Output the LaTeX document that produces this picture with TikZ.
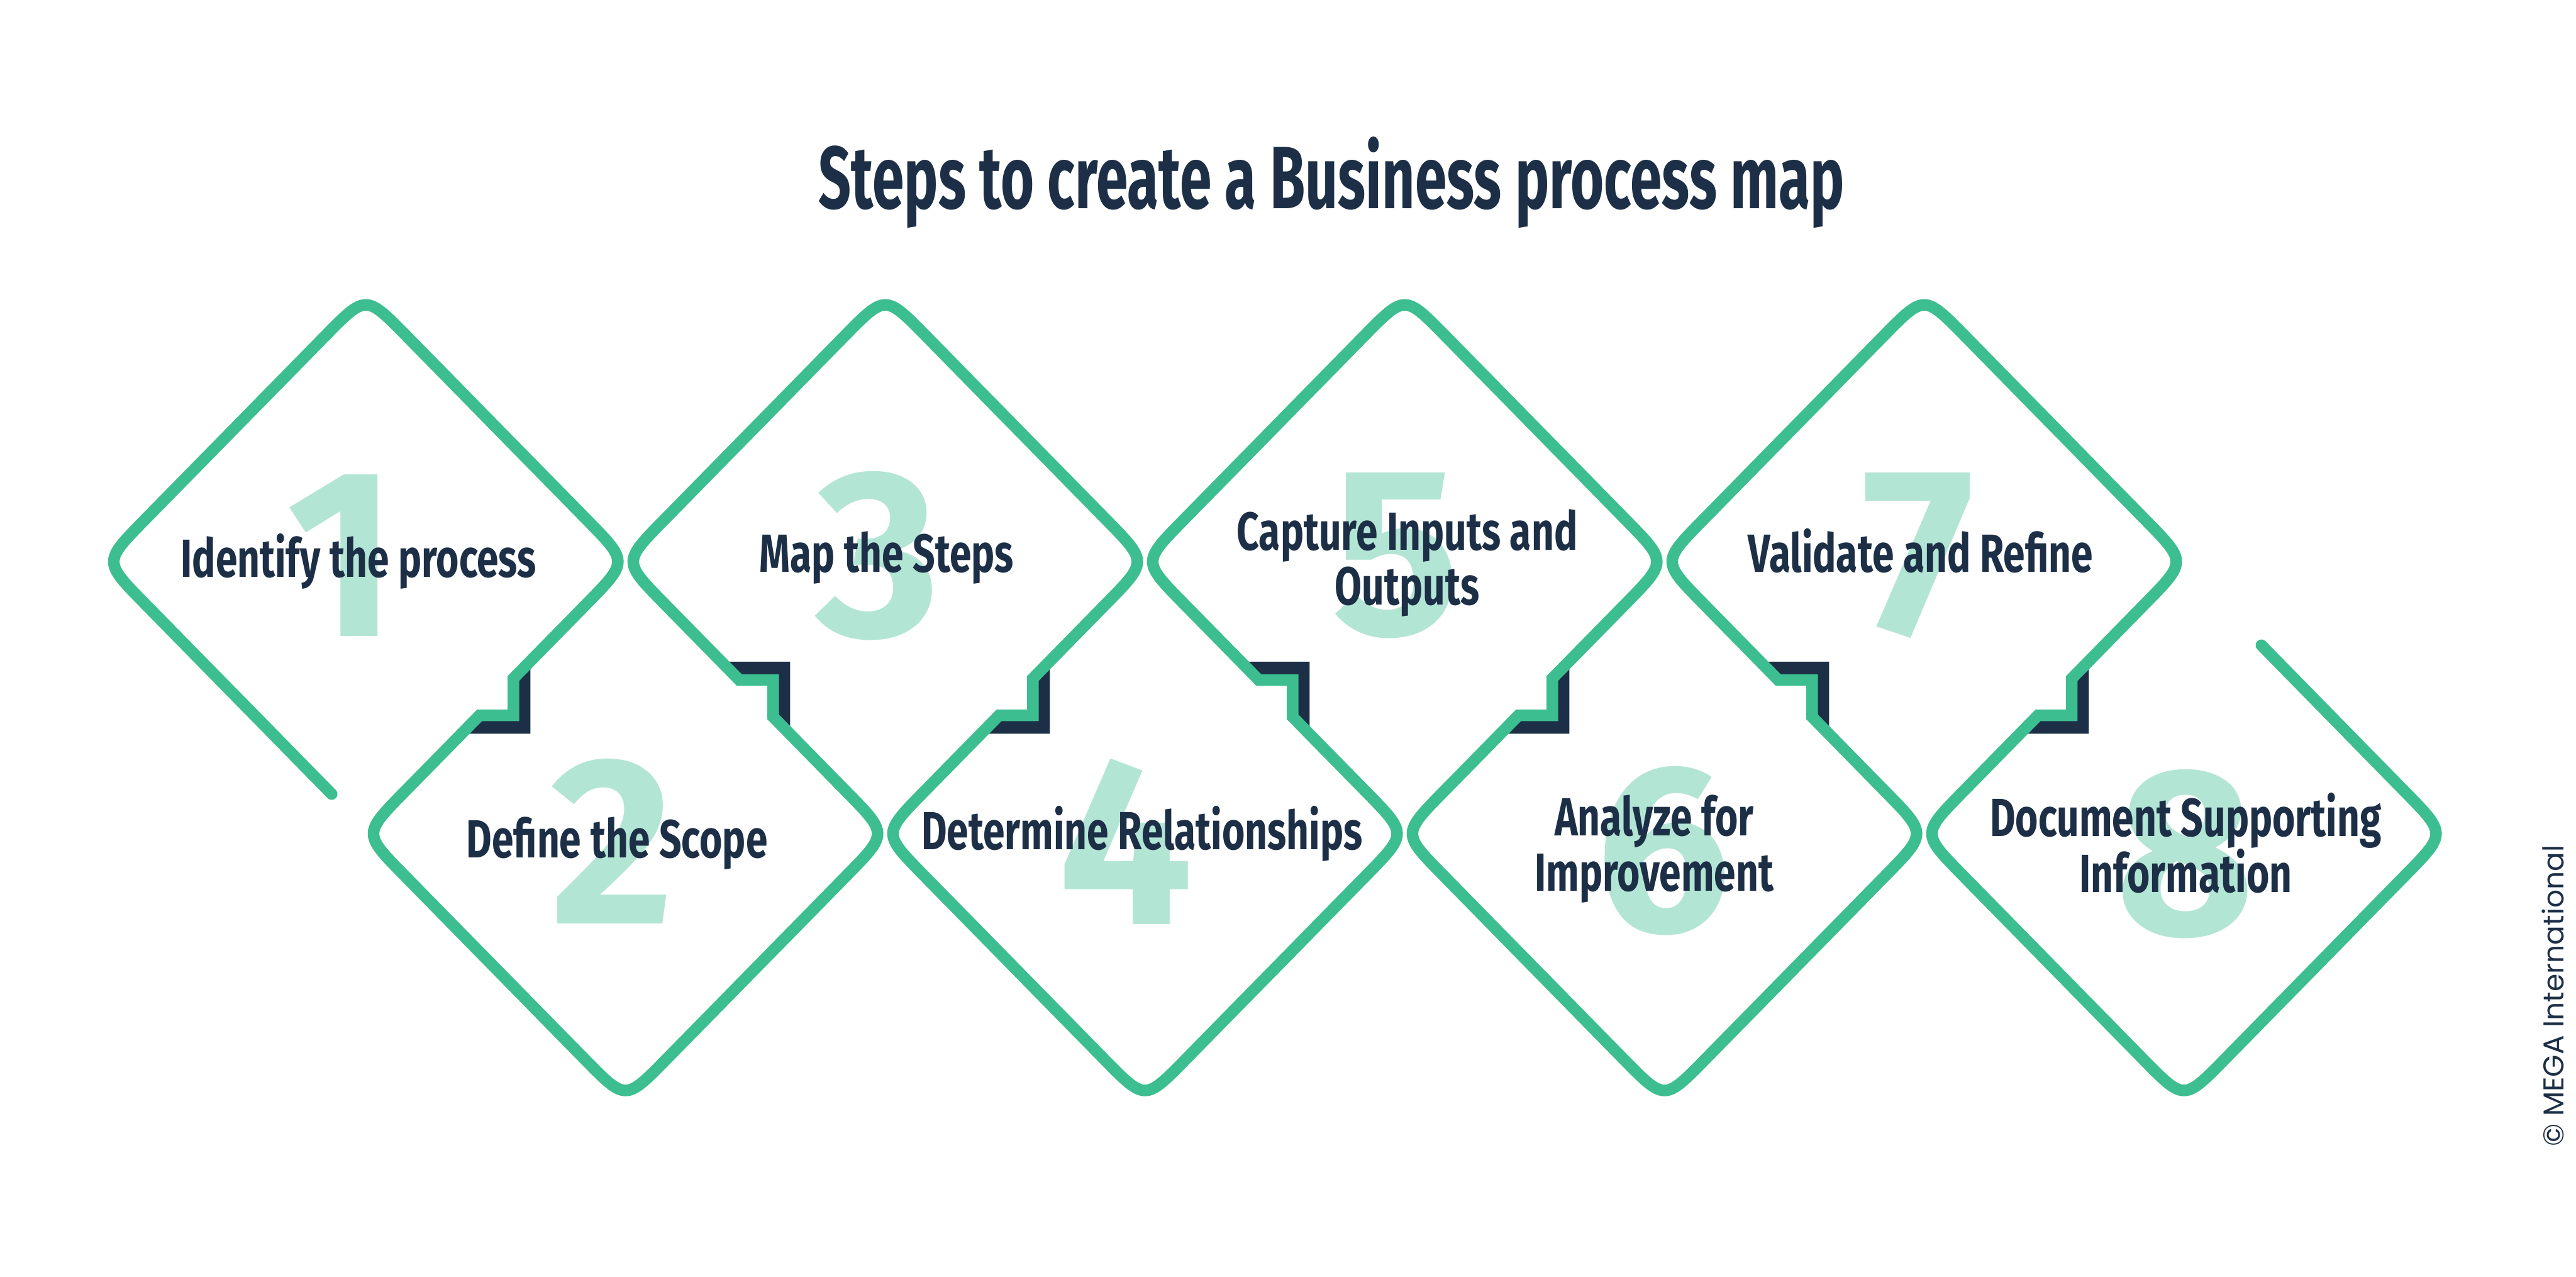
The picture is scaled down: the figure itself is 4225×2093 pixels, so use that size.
\documentclass[tikz,border=0pt]{standalone}
\usepackage{fontspec}
\usetikzlibrary{calc}
\definecolor{mapgreen}{HTML}{3DBE90}
\definecolor{mapmint}{HTML}{B3E5D5}
\definecolor{mapnavy}{HTML}{1C2F46}
\newfontfamily\stepfont{Fira Sans}[FakeStretch=0.73]
\newfontfamily\titlefont{Fira Sans}[FakeStretch=0.648]
\newfontfamily\numfont{Fira Sans}
\newfontfamily\creditfont{Poppins}
\tikzset{
  outline/.style={line width=19pt, draw=mapgreen, line cap=round, line join=miter},
  notch/.style={fill=mapnavy},
  steplabel/.style={font=\stepfont\bfseries\fontsize{88}{90}\selectfont, text=mapnavy,
    align=center, inner sep=0pt, text depth=0pt, anchor=south},
  bignum/.style={font=\numfont\bfseries\fontsize{392}{392}\selectfont, text=mapmint, inner sep=0pt},
}
% one rounded corner of a diamond
\newcommand{\dcorner}[3]{-- ($(#1)+(#2)$) .. controls (#1) .. ($(#1)+(#3)$)}
\newcommand{\uppershape}[1]{\dcorner{l#1}{66.6,67.8}{66.6,-67.8}\dcorner{t#1}{-66.6,67.8}{66.6,67.8}\dcorner{r#1}{-66.6,-67.8}{-66.6,67.8} -- (ja#1) -- (jb#1) -- (jc#1)}
\newcommand{\lowershape}[1]{\dcorner{l#1}{66.6,-67.8}{66.6,67.8}\dcorner{b#1}{-66.6,-67.8}{66.6,-67.8}\dcorner{r#1}{-66.6,67.8}{-66.6,-67.8} -- (ja#1) -- (jb#1) -- (jc#1)}

\begin{document}
\begin{tikzpicture}[x=1pt,y=-1pt]
  \useasboundingbox (0,0) rectangle (4225,2093);
  \fill[white] (0,0) rectangle (4225,2093);

  % diamonds: centre, corners, joints
  \foreach \i/\x/\y/\s in {1/600/921/1, 2/1026/1367/-1, 3/1452/921/1, 4/1878/1367/-1,
                           5/2304/921/1, 6/2730/1367/-1, 7/3156/921/1, 8/3582/1367/-1}{
    \coordinate (c\i) at (\x,\y);
    \coordinate (l\i) at (\x-430,\y);
    \coordinate (t\i) at (\x,\y-438);
    \coordinate (r\i) at (\x+430,\y);
    \coordinate (b\i) at (\x,\y+438);
    \coordinate (ja\i) at (\x+242,\y+191.5*\s);
    \coordinate (jb\i) at (\x+242,\y+252*\s);
    \coordinate (jc\i) at (\x+186.5,\y+252*\s);
    \ifnum\i<8
      \fill[notch] (\x+248,\y+185.4*\s) -- (\x+270,\y+163*\s) -- (\x+270,\y+282*\s)
        -- (\x+157,\y+282*\s) -- (\x+180.6,\y+258*\s) -- (\x+248,\y+258*\s) -- cycle;
    \fi
  }
  \coordinate (s1) at (544,1302);
  \coordinate (e8) at (3709,1058);

  \draw[outline] (s1) \uppershape{1} \lowershape{2} \uppershape{3} \lowershape{4}
    \uppershape{5} \lowershape{6} \uppershape{7}
    \dcorner{l8}{66.6,-67.8}{66.6,67.8}\dcorner{b8}{-66.6,-67.8}{66.6,-67.8}\dcorner{r8}{-66.6,67.8}{-66.6,-67.8} -- (e8);

  % big numbers
  \node[bignum] (num1) at (561,911) {1};
  \node[bignum] (num2) at (1004,1380) {2};
  \node[bignum] (num3) at (1440,911) {3};
  \node[bignum] (num4) at (1846,1380) {4};
  \node[bignum] (num5) at (2290,911) {5};
  \node[bignum] (num6) at (2728,1395) {6};
  \node[bignum] (num7) at (3146,911) {7};
  \node[bignum] (num8) at (3584,1400) {8};

  % step texts
  \node[steplabel] (lbl1) at (588,947) {Identify the process};
  \node[steplabel] (lbl2) at (1012,1407) {Define the Scope};
  \node[steplabel] (lbl3) at (1454,938) {Map the Steps};
  \node[steplabel] (lbl4) at (1873,1393) {Determine Relationships};
  \node[steplabel] (lbl5) at (2308,992) {Capture Inputs and\\Outputs};
  \node[steplabel] (lbl6) at (2713,1461) {Analyze for\\Improvement};
  \node[steplabel] (lbl7) at (3150,938) {Validate and Refine};
  \node[steplabel] (lbl8) at (3585,1463) {Document Supporting\\Information};

  \node[font=\titlefont\bfseries\fontsize{145}{150}\selectfont, text=mapnavy, inner sep=0pt, anchor=base]
    (title) at (2184,342) {Steps to create a Business process map};
  \node[font=\creditfont\fontsize{47}{47}\selectfont, text=mapnavy, rotate=90, inner sep=0pt]
    (credit) at (4187,1633) {© MEGA International};
\end{tikzpicture}
\end{document}
